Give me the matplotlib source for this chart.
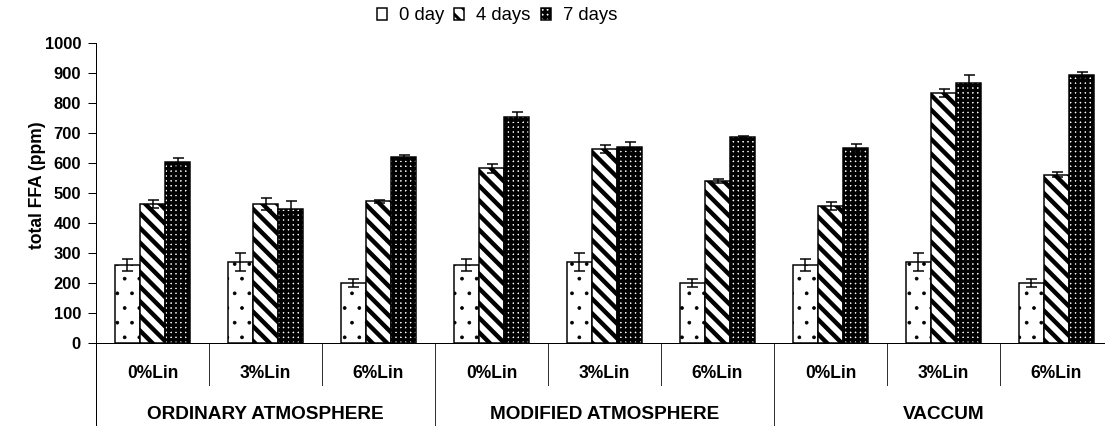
import matplotlib
matplotlib.use('Agg')
import matplotlib.pyplot as plt
import numpy as np

plt.rcParams['font.family'] = ['Liberation Sans', 'DejaVu Sans']

treatments = ['0%Lin', '3%Lin', '6%Lin'] * 3
atmospheres = ['ORDINARY ATMOSPHERE', 'MODIFIED ATMOSPHERE', 'VACCUM']
series_names = ['0 day', '4 days', '7 days']

zero_day = [260, 270, 200, 260, 270, 200, 260, 270, 200]
zero_day_err = [20, 30, 13, 20, 30, 13, 20, 30, 13]
four_days = [463, 463, 472, 582, 647, 540, 458, 834, 561]
four_days_err = [13, 20, 6, 15, 14, 7, 13, 14, 8]
seven_days = [602, 448, 619, 754, 652, 686, 651, 868, 894]
seven_days_err = [15, 25, 8, 15, 19, 5, 14, 25, 9]

DPI = 88
W, H = 1105, 426


def pt(px):
    return px * 72 / DPI


fig = plt.figure(figsize=(W / DPI, H / DPI), dpi=DPI)
ax = fig.add_axes([96 / W, 83 / H, 1017 / W, 300 / H])

x = np.arange(len(treatments))
bw = 2 / 9
styles = [
    dict(hatch='.', hatch_lw=0.6),
    dict(hatch='\\\\', hatch_lw=pt(4.4)),
    dict(hatch='+++', hatch_lw=pt(3.3)),
]
values = [zero_day, four_days, seven_days]
errors = [zero_day_err, four_days_err, seven_days_err]


def set_hatch_lw(patch, lw):
    if hasattr(patch, 'set_hatch_linewidth'):
        patch.set_hatch_linewidth(lw)


handles = []
for k in range(3):
    with plt.rc_context({'hatch.linewidth': styles[k]['hatch_lw']}):
        bars = ax.bar(x + (k - 1) * bw, values[k], bw, color='white', edgecolor='black',
                      linewidth=pt(1.5), hatch=styles[k]['hatch'], label=series_names[k], zorder=2)
        for b in bars:
            set_hatch_lw(b, styles[k]['hatch_lw'])
    handles.append(bars)
    ax.errorbar(x + (k - 1) * bw, values[k], yerr=errors[k], fmt='none', ecolor='black',
                elinewidth=pt(1.5), capsize=pt(5.5), capthick=pt(1.5), zorder=3)

ax.set_xlim(-0.5, 8.5)
ax.set_ylim(0, 1000)
ax.set_yticks(range(0, 1001, 100))
ax.tick_params(axis='y', direction='out', length=pt(8), width=pt(1), pad=pt(7),
               labelsize=pt(16.5))
for lbl in ax.get_yticklabels():
    lbl.set_fontweight('bold')
ax.set_xticks([])
for side in ['top', 'right']:
    ax.spines[side].set_visible(False)
ax.spines['left'].set_linewidth(pt(1))
ax.spines['bottom'].set_linewidth(pt(1))

# two-level category axis under the bars
trans = ax.get_xaxis_transform()
ax.plot([-0.5, -0.5], [0, -0.3], transform=trans, color='black', lw=pt(1), clip_on=False)
for sep in [0.5, 1.5, 3.5, 4.5, 6.5, 7.5]:
    ax.plot([sep, sep], [0, -0.14], transform=trans, color='#333333', lw=pt(1), clip_on=False)
for sep in [2.5, 5.5]:
    ax.plot([sep, sep], [0, -0.3], transform=trans, color='#333333', lw=pt(1), clip_on=False)
for i, name in enumerate(treatments):
    ax.text(i, -0.118, name, transform=trans, ha='center', va='baseline',
            fontsize=pt(17.5), fontweight='bold')
for j, name in enumerate(atmospheres):
    ax.text(3 * j + 1, -0.254, name, transform=trans, ha='center', va='baseline',
            fontsize=pt(19), fontweight='bold')

fig.text(37 / W, 1 - 185 / H, 'total FFA (ppm)', rotation=90, ha='center', va='center',
         fontsize=pt(17.5), fontweight='bold')

leg = fig.legend(handles=handles, labels=series_names, loc='center', ncol=3,
                 bbox_to_anchor=(497 / W, 1 - 16 / H), frameon=False, fontsize=pt(18.5),
                 handlelength=0.55, handleheight=0.55, handletextpad=0.65, columnspacing=0.55,
                 borderpad=0.2)
for h, st in zip(leg.legend_handles, styles):
    set_hatch_lw(h, st['hatch_lw'] if st['hatch'] == '.' else pt(3))

fig.savefig('out.png', dpi=DPI)
